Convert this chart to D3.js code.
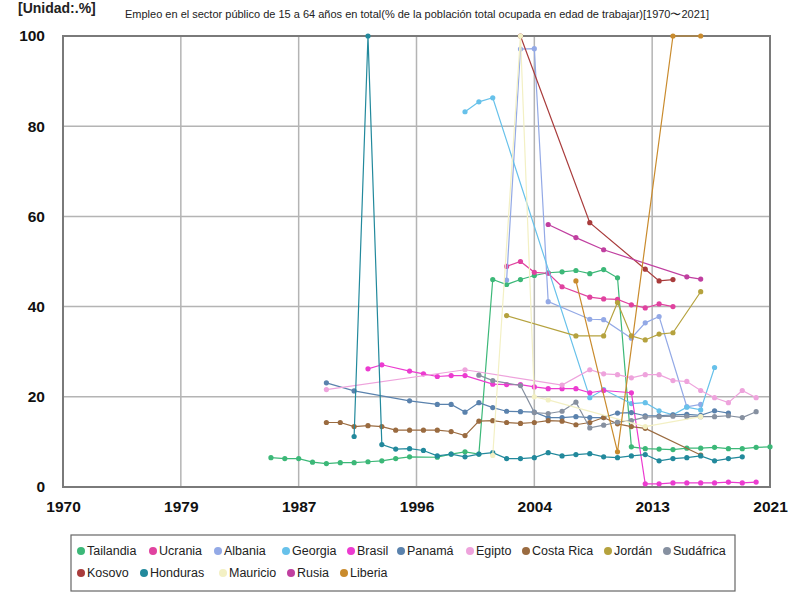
<!DOCTYPE html>
<html>
<head>
<meta charset="utf-8">
<script src="https://cdn.jsdelivr.net/npm/d3@7"></script>
<style>
  body { margin: 0; background: #fff; }
  svg { font-family: "Liberation Sans", Arial, sans-serif; }
</style>
</head>
<body>
<div id="chart"></div>
<script>
// Series values: [year, %]
const tailandia = [[1985,6.5],[1986,6.3],[1987,6.3],[1988,5.5],[1989,5.2],[1990,5.4],[1991,5.4],[1992,5.6],[1993,5.8],[1994,6.3],[1995,6.7],[1997,6.6],[1998,7.3],[1999,7.8],[2000,7.3],[2001,46.0],[2002,44.9],[2003,46.0],[2004,46.9],[2005,47.5],[2006,47.7],[2007,48.0],[2008,47.3],[2009,48.2],[2010,46.4],[2011,8.9],[2012,8.5],[2013,8.4],[2014,8.3],[2015,8.6],[2016,8.6],[2017,8.8],[2018,8.5],[2019,8.5],[2020,8.8],[2021,8.9]];
const ucrania = [[2002,48.9],[2003,50.0],[2004,47.6],[2005,47.4],[2006,44.4],[2008,42.1],[2009,41.7],[2010,41.6],[2011,40.4],[2012,39.7],[2013,40.6],[2014,40.0]];
const albania = [[2002,45.9],[2003,97.1],[2004,97.2],[2005,41.1],[2008,37.2],[2009,37.1],[2011,33.0],[2012,36.4],[2013,37.8],[2015,17.8],[2016,18.3]];
const georgia = [[1999,83.2],[2000,85.4],[2001,86.3],[2008,19.8],[2009,21.6],[2011,18.5],[2012,18.7],[2013,16.9],[2014,16.0],[2015,17.7],[2016,17.1],[2017,26.5]];
const brasil = [[1992,26.2],[1993,27.1],[1995,25.7],[1996,25.1],[1997,24.5],[1998,24.7],[1999,24.7],[2001,22.8],[2002,22.7],[2003,22.7],[2004,22.2],[2005,21.8],[2006,21.8],[2007,21.8],[2008,20.9],[2009,21.4],[2011,20.9],[2012,0.7],[2013,0.7],[2014,0.9],[2015,0.9],[2016,0.9],[2017,0.9],[2018,1.1],[2019,0.9],[2020,1.1]];
const panama = [[1989,23.1],[1991,21.3],[1995,19.1],[1997,18.3],[1998,18.3],[1999,16.6],[2000,18.7],[2001,17.6],[2002,16.8],[2003,16.7],[2004,16.6],[2005,15.4],[2006,15.4],[2007,15.6],[2008,15.4],[2009,15.4],[2010,16.4],[2011,16.5],[2012,15.8],[2013,15.8],[2014,16.0],[2015,16.1],[2016,15.9],[2017,16.9],[2018,16.4]];
const egipto = [[1989,21.6],[1999,26.0],[2006,22.6],[2008,26.0],[2009,25.1],[2010,24.9],[2011,24.2],[2012,24.9],[2013,24.9],[2014,23.6],[2015,23.4],[2016,21.4],[2017,19.8],[2018,18.7],[2019,21.4],[2020,19.8]];
const costaRica = [[1989,14.3],[1990,14.3],[1991,13.4],[1992,13.6],[1993,13.4],[1994,12.6],[1995,12.6],[1996,12.6],[1997,12.6],[1998,12.3],[1999,11.4],[2000,14.6],[2001,14.7],[2002,14.3],[2003,14.1],[2004,14.3],[2005,14.7],[2006,14.6],[2007,13.8],[2008,14.3],[2009,15.4],[2010,14.0],[2011,13.4],[2012,13.0],[2016,7.1]];
const jordan = [[2002,38.0],[2007,33.5],[2009,33.5],[2010,40.9],[2011,33.5],[2012,32.6],[2013,33.9],[2014,34.2],[2016,43.3]];
const sudafrica = [[2000,24.8],[2001,23.6],[2003,22.5],[2004,16.5],[2005,16.3],[2006,16.8],[2007,18.8],[2008,13.1],[2009,13.7],[2010,14.4],[2011,14.7],[2012,15.5],[2013,15.6],[2014,15.7],[2015,15.6],[2016,15.6],[2017,15.6],[2018,15.8],[2019,15.4],[2020,16.7]];
const kosovo = [[2003,100],[2008,58.6],[2012,48.3],[2013,45.7],[2014,46.0]];
const honduras = [[1991,11.2],[1992,100],[1993,9.4],[1994,8.4],[1995,8.5],[1996,8.1],[1997,6.9],[1998,7.3],[1999,6.7],[2000,7.3],[2001,7.6],[2002,6.3],[2003,6.3],[2004,6.5],[2005,7.6],[2006,6.9],[2007,7.2],[2008,7.4],[2009,6.7],[2010,6.5],[2011,6.9],[2012,7.2],[2013,5.8],[2014,6.3],[2015,6.5],[2016,6.9],[2017,5.8],[2018,6.3],[2019,6.7]];
const mauricio = [[2001,7.0],[2003,100],[2004,20.0],[2005,19.3],[2012,13.4],[2016,15.6]];
const rusia = [[2005,58.2],[2007,55.3],[2009,52.6],[2015,46.6],[2016,46.1]];
const liberia = [[2007,45.7],[2010,7.8],[2014,100],[2016,100]];

const seriesNames = ['Tailandia', 'Ucrania', 'Albania', 'Georgia', 'Brasil', 'Panamá', 'Egipto', 'Costa Rica', 'Jordán', 'Sudáfrica', 'Kosovo', 'Honduras', 'Mauricio', 'Rusia', 'Liberia'];
const seriesData = [tailandia, ucrania, albania, georgia, brasil, panama, egipto, costaRica, jordan, sudafrica, kosovo, honduras, mauricio, rusia, liberia];
const seriesColors = ['#3cb878', '#e0429f', '#93a9e6', '#67c1ea', '#ec3bd0', '#5a82ad', '#eea3dc', '#9a6b40', '#b5a23e', '#8690a0', '#a93c3c', '#22899c', '#f3f0c4', '#c03fa0', '#c98b2d'];

const xTicks = [1970, 1978.5, 1987, 1995.5, 2004, 2012.5, 2021];
const yTicks = [0, 20, 40, 60, 80, 100];

const titleText = 'Empleo en el sector público de 15 a 64 años en total(% de la población total ocupada en edad de trabajar)[1970〜2021]';
const unitText = '[Unidad:.%]';

// legend item positions (row, x)
const legendPos = [[0, 81], [0, 153], [0, 218], [0, 286], [0, 351], [0, 401], [0, 470], [0, 526], [0, 608], [0, 667],
                   [1, 81], [1, 144], [1, 223], [1, 291], [1, 344]];

const W = 800, H = 600;
const plot = { left: 63, right: 770, top: 36, bottom: 487 };

const svg = d3.select('#chart').append('svg')
  .attr('width', W)
  .attr('height', H);

const x = d3.scaleLinear().domain([1970, 2021]).range([plot.left, plot.right]);
const y = d3.scaleLinear().domain([0, 100]).range([plot.bottom, plot.top]);

// grid
const grid = svg.append('g');
grid.selectAll('line.v').data(xTicks.slice(1, -1)).enter().append('line')
  .attr('x1', d => x(d)).attr('x2', d => x(d))
  .attr('y1', plot.top).attr('y2', plot.bottom)
  .attr('stroke', '#b4b4b4').attr('stroke-width', 1.5);
grid.selectAll('line.h').data(yTicks.slice(1, -1)).enter().append('line')
  .attr('x1', plot.left).attr('x2', plot.right)
  .attr('y1', d => y(d)).attr('y2', d => y(d))
  .attr('stroke', '#b4b4b4').attr('stroke-width', 1.5);

// axes (labels only)
const xAxis = d3.axisBottom(x).tickValues(xTicks).tickFormat(d => Math.round(d)).tickSize(0).tickPadding(14);
const yAxis = d3.axisLeft(y).tickValues(yTicks).tickSize(0).tickPadding(18);

const gx = svg.append('g').attr('transform', `translate(0,${plot.bottom})`).call(xAxis);
const gy = svg.append('g').attr('transform', `translate(${plot.left},0)`).call(yAxis);
[gx, gy].forEach(g => {
  g.select('.domain').remove();
  g.selectAll('text')
    .attr('fill', '#111')
    .style('font-size', '15.5px')
    .style('font-weight', 'bold');
});

// frame
svg.append('rect')
  .attr('x', plot.left).attr('y', plot.top)
  .attr('width', plot.right - plot.left).attr('height', plot.bottom - plot.top)
  .attr('fill', 'none').attr('stroke', '#7a7a7a').attr('stroke-width', 2);

// lines and points
svg.append('clipPath').attr('id', 'clip')
  .append('rect')
  .attr('x', plot.left).attr('y', plot.top - 3)
  .attr('width', plot.right - plot.left + 3).attr('height', plot.bottom - plot.top + 6);

const line = d3.line().x(d => x(d[0])).y(d => y(d[1]));
const marks = svg.append('g').attr('clip-path', 'url(#clip)');

seriesData.forEach((data, i) => {
  const g = marks.append('g');
  g.append('path')
    .datum(data)
    .attr('d', line)
    .attr('fill', 'none')
    .attr('stroke', seriesColors[i])
    .attr('stroke-width', 1.2);
  g.selectAll('circle').data(data).enter().append('circle')
    .attr('cx', d => x(d[0]))
    .attr('cy', d => y(d[1]))
    .attr('r', 2.6)
    .attr('fill', seriesColors[i]);
});

// title and unit
svg.append('text')
  .attr('x', 417).attr('y', 18)
  .attr('text-anchor', 'middle')
  .style('font-size', '11px')
  .attr('fill', '#222')
  .text(titleText);

svg.append('text')
  .attr('x', 18).attr('y', 13)
  .style('font-size', '14px')
  .style('font-weight', 'bold')
  .attr('fill', '#222')
  .text(unitText);

// legend
const legend = svg.append('g');
legend.append('rect')
  .attr('x', 71).attr('y', 535)
  .attr('width', 664).attr('height', 56)
  .attr('fill', '#fff')
  .attr('stroke', '#666')
  .attr('stroke-width', 1.2);

seriesNames.forEach((name, i) => {
  const [row, lx] = legendPos[i];
  const ly = 551 + row * 22;
  legend.append('circle')
    .attr('cx', lx).attr('cy', ly)
    .attr('r', 4)
    .attr('fill', seriesColors[i]);
  legend.append('text')
    .attr('x', lx + 6).attr('y', ly)
    .attr('dy', '0.35em')
    .style('font-size', '12.5px')
    .attr('fill', '#222')
    .text(name);
});
</script>
</body>
</html>
